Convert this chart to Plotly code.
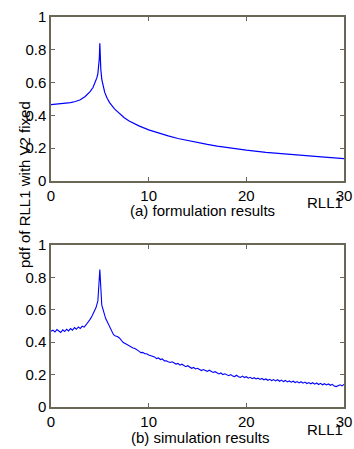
import plotly.graph_objects as go
from plotly.subplots import make_subplots

# ---- data ----
form_x = [0, 1, 2, 2.5, 3, 3.5, 4, 4.3, 4.5, 4.7, 4.8, 4.9, 4.95, 5.0, 5.05, 5.1, 5.2, 5.3,
          5.5, 5.75, 6, 6.5, 7, 7.5, 8, 9, 10, 11, 12, 13, 14, 15, 16, 17, 18, 19, 20,
          22, 24, 26, 28, 30]
form_y = [0.466, 0.470, 0.478, 0.485, 0.495, 0.515, 0.545, 0.570, 0.595, 0.630, 0.655, 0.700,
          0.750, 0.840, 0.740, 0.680, 0.620, 0.585, 0.540, 0.505, 0.478, 0.440, 0.410, 0.386,
          0.366, 0.336, 0.312, 0.292, 0.275, 0.259, 0.246, 0.234, 0.223, 0.213, 0.204, 0.196,
          0.188, 0.175, 0.164, 0.154, 0.145, 0.137]

sim_y = [0.468, 0.474, 0.463, 0.478, 0.469, 0.460, 0.476, 0.466, 0.480, 0.470,
         0.484, 0.474, 0.490, 0.480, 0.494, 0.485, 0.499, 0.493, 0.508, 0.523,
         0.541, 0.562, 0.585, 0.612, 0.655, 0.848, 0.628, 0.578, 0.546, 0.522,
         0.497, 0.468, 0.446, 0.438, 0.435, 0.426, 0.412, 0.398, 0.392, 0.384,
         0.378, 0.373, 0.364, 0.361, 0.350, 0.345, 0.336, 0.337, 0.329, 0.329,
         0.321, 0.317, 0.310, 0.309, 0.299, 0.303, 0.293, 0.297, 0.285, 0.285,
         0.279, 0.275, 0.279, 0.269, 0.265, 0.269, 0.258, 0.264, 0.254, 0.249,
         0.255, 0.245, 0.239, 0.244, 0.235, 0.239, 0.230, 0.225, 0.231, 0.223,
         0.220, 0.227, 0.218, 0.213, 0.218, 0.209, 0.204, 0.210, 0.200, 0.205,
         0.197, 0.193, 0.200, 0.191, 0.188, 0.196, 0.187, 0.183, 0.191, 0.182,
         0.187, 0.178, 0.183, 0.175, 0.181, 0.173, 0.178, 0.170, 0.176, 0.168,
         0.173, 0.165, 0.171, 0.163, 0.169, 0.161, 0.168, 0.159, 0.166, 0.157,
         0.164, 0.155, 0.161, 0.153, 0.159, 0.151, 0.157, 0.149, 0.156, 0.147,
         0.154, 0.145, 0.151, 0.143, 0.150, 0.141, 0.148, 0.139, 0.146, 0.137,
         0.144, 0.136, 0.142, 0.134, 0.140, 0.129, 0.126, 0.134, 0.137, 0.130,
         0.140]
sim_x = [round(0.2 * i, 1) for i in range(len(sim_y))]

x_ticks = [0, 10, 20, 30]
x_tick_labels = ["0", "10", "20", "30"]
y_ticks = [0, 0.2, 0.4, 0.6, 0.8, 1]
y_tick_labels = ["0", "0.2", "0.4", "0.6", "0.8", "1"]

# ---- figure ----
W, H = 354, 449
FONT = "Liberation Sans, Arial, Helvetica, sans-serif"
AXC = "#6b6757"

fig = make_subplots(rows=2, cols=1)
fig.add_trace(go.Scatter(x=form_x, y=form_y, mode="lines",
                         line=dict(color="#0000ff", width=1.2)), row=1, col=1)
fig.add_trace(go.Scatter(x=sim_x, y=sim_y, mode="lines",
                         line=dict(color="#0000ff", width=1.1)), row=2, col=1)

xdom = [51 / W, 344 / W]
ydom_top = [1 - 181 / H, 1 - 17 / H]
ydom_bot = [1 - 407 / H, 1 - 245 / H]

common_x = dict(range=[0, 30], tickvals=x_ticks, ticktext=x_tick_labels,
                showline=True, linecolor=AXC, linewidth=1.5, mirror="ticks",
                ticks="inside", ticklen=4, tickcolor=AXC, showgrid=False,
                zeroline=False, automargin=False,
                tickfont=dict(family=FONT, size=15, color="black"))
common_y = dict(range=[0, 1], tickvals=y_ticks, ticktext=y_tick_labels,
                showline=True, linecolor=AXC, linewidth=1.5, mirror="ticks",
                ticks="inside", ticklen=4, tickcolor=AXC, showgrid=False,
                zeroline=False, automargin=False,
                tickfont=dict(family=FONT, size=15, color="black"))

fig.update_layout(
    width=W, height=H,
    margin=dict(l=0, r=0, t=0, b=0),
    paper_bgcolor="white", plot_bgcolor="white",
    showlegend=False,
    font=dict(family=FONT, size=15, color="black"),
    xaxis=dict(domain=xdom, **common_x),
    xaxis2=dict(domain=xdom, **common_x),
    yaxis=dict(domain=ydom_top, **common_y),
    yaxis2=dict(domain=ydom_bot, **common_y),
)

ann = [
    dict(text="(a) formulation results", x=202 / W, y=1 - 210 / H, xanchor="center", yanchor="middle"),
    dict(text="RLL1", x=345 / W, y=1 - 202.5 / H, xanchor="right", yanchor="middle"),
    dict(text="(b) simulation results", x=200 / W, y=1 - 437 / H, xanchor="center", yanchor="middle"),
    dict(text="RLL1", x=345 / W, y=1 - 429 / H, xanchor="right", yanchor="middle"),
    dict(text="pdf of RLL1 with V2 fixed", x=24 / W, y=1 - 185 / H, textangle=-90,
         xanchor="center", yanchor="middle"),
]
fig.update_layout(annotations=[dict(xref="paper", yref="paper", showarrow=False,
                                    font=dict(family=FONT, size=15, color="black"), **a)
                               for a in ann])

fig.write_html("out.html", config={"displayModeBar": False},
               post_script="document.body.style.margin='0';document.body.style.overflow='hidden';")
